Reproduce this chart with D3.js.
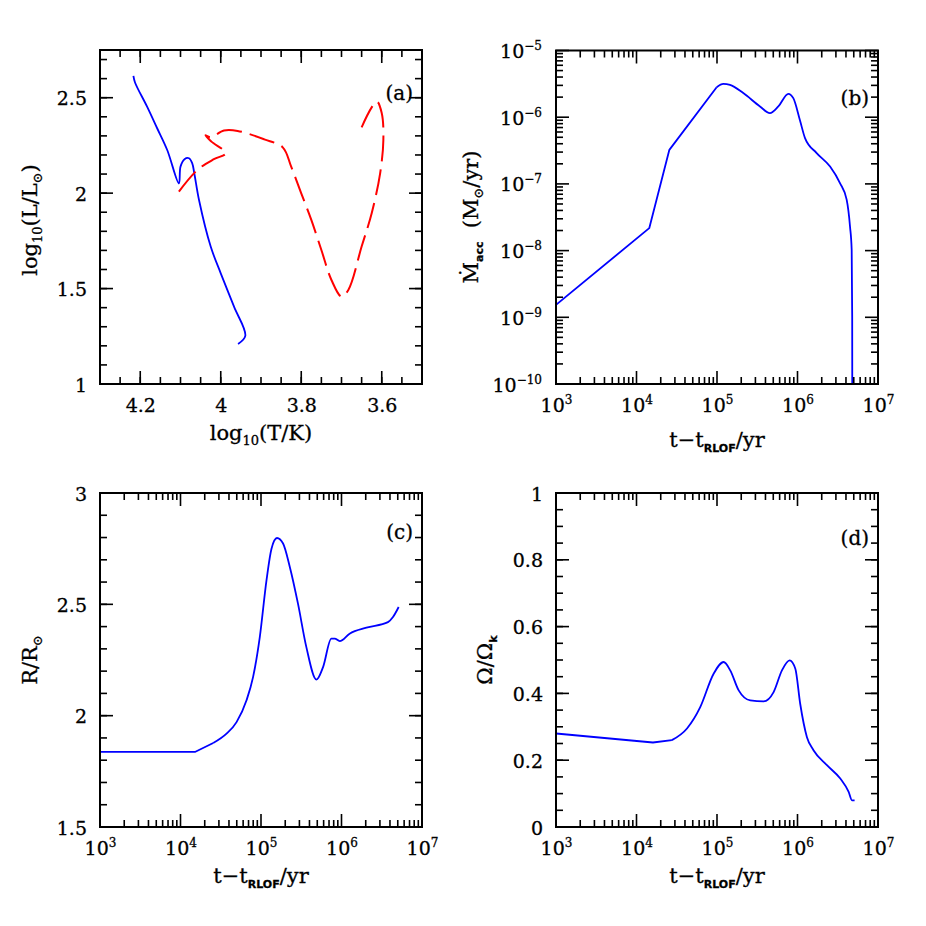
<!DOCTYPE html>
<html>
<head>
<meta charset="utf-8">
<script src="https://cdn.jsdelivr.net/npm/d3@7"></script>
<style>
  body { margin: 0; background: #fff; }
  text { font-family: "DejaVu Serif", serif; fill: #000; stroke: #000; stroke-width: 0.3px; }
</style>
</head>
<body>
<script>
// (a) HR diagram: accretor (blue, solid) and donor (red, dashed)
const accretorLogT = [4.217, 4.213, 4.183, 4.158, 4.133, 4.104, 4.100, 4.090, 4.079, 4.071, 4.065, 4.054, 4.025, 4.000, 3.967, 3.939, 3.957];
const accretorLogL = [2.614, 2.580, 2.453, 2.340, 2.226, 2.051, 2.139, 2.178, 2.183, 2.157, 2.095, 1.964, 1.720, 1.580, 1.405, 1.252, 1.210];
const donorLogT = [4.104, 4.058, 4.017, 3.9875, 4.023, 4.038, 4.025, 3.992, 3.958, 3.892, 3.846, 3.825, 3.800, 3.775, 3.750, 3.725, 3.700, 3.683, 3.650, 3.625, 3.604, 3.596, 3.600, 3.6125, 3.650];
const donorLogL = [2.008, 2.122, 2.178, 2.209, 2.270, 2.303, 2.293, 2.328, 2.326, 2.282, 2.240, 2.139, 1.999, 1.860, 1.702, 1.545, 1.458, 1.493, 1.720, 1.895, 2.104, 2.279, 2.419, 2.480, 2.345];

// (b) accretion rate
const timeMdot = [1e3, 1.44e4, 2.56e4, 9.9e4, 1.2e5, 1.45e5, 2.12e5, 3.42e5, 4.55e5, 5.78e5, 7.7e5, 8.87e5, 1.07e6, 1.24e6, 1.73e6, 2.54e6, 3.37e6, 4.08e6, 4.49e6, 4.71e6, 4.78e6, 4.8e6];
const mdotAcc = [1.54e-9, 2.17e-8, 3.24e-7, 2.82e-6, 3.16e-6, 3.06e-6, 2.3e-6, 1.45e-6, 1.15e-6, 1.45e-6, 2.24e-6, 1.93e-6, 9.1e-7, 4.86e-7, 2.9e-7, 1.82e-7, 1.03e-7, 5.8e-8, 2.3e-8, 1.03e-8, 1e-9, 1e-11];

// (c) radius
const timeRadius = [1e3, 1.51e4, 2.55e4, 3.73e4, 4.97e4, 6.61e4, 7.98e4, 9.66e4, 1.17e5, 1.35e5, 1.58e5, 1.88e5, 2.28e5, 2.88e5, 3.66e5, 4.89e5, 5.90e5, 7.48e5, 8.24e5, 9.51e5, 1.26e6, 2.04e6, 3.78e6, 4.36e6, 5.13e6];
const radius = [1.837, 1.837, 1.877, 1.919, 1.971, 2.069, 2.174, 2.353, 2.608, 2.750, 2.798, 2.773, 2.668, 2.503, 2.308, 2.162, 2.218, 2.346, 2.346, 2.335, 2.368, 2.395, 2.420, 2.443, 2.488];

// (d) rotation
const timeOmega = [1e3, 1.6e4, 2.75e4, 4.24e4, 6.19e4, 9.08e4, 1.21e5, 1.46e5, 1.86e5, 2.59e5, 3.79e5, 5.05e5, 6.41e5, 7.98e5, 9.40e5, 1.08e6, 1.31e6, 1.58e6, 2.32e6, 3.40e6, 4.32e6, 4.75e6, 5.12e6];
const omegaRatio = [0.280, 0.253, 0.260, 0.295, 0.359, 0.459, 0.494, 0.469, 0.409, 0.379, 0.376, 0.404, 0.469, 0.499, 0.474, 0.369, 0.269, 0.230, 0.185, 0.145, 0.105, 0.080, 0.080];

// tick values
const logTMajor = [4.2, 4.0, 3.8, 3.6];
const logLMajor = [1, 1.5, 2, 2.5];
const radiusMajor = [1.5, 2, 2.5, 3];
const omegaMajor = [0, 0.2, 0.4, 0.6, 0.8, 1];
const timeDecades = [3, 4, 5, 6, 7];
const mdotDecades = [-10, -9, -8, -7, -6, -5];

const W = 926, H = 926;
const svg = d3.select("body").append("svg").attr("width", W).attr("height", H);

const range = (a, b, s) => d3.range(Math.round((b - a) / s) + 1).map(i => +(a + i * s).toFixed(4));
const logMinor = decs => decs.slice(0, -1).flatMap(e => d3.range(2, 10).map(m => m * Math.pow(10, e)));
const pow10 = decs => decs.map(e => Math.pow(10, e));

const MAJOR = 13, MINOR = 7;

// inward ticks on all four sides, then the frame
function drawTicks(g, p, sx, sy, xMaj, xMin, yMaj, yMin) {
  const tg = g.append("g").attr("stroke", "#000").attr("stroke-width", 1.6);
  [[xMin, MINOR], [xMaj, MAJOR]].forEach(([vals, len]) => {
    tg.append("g").selectAll("line").data(vals).join("line")
      .attr("x1", d => sx(d)).attr("x2", d => sx(d))
      .attr("y1", p.y1).attr("y2", p.y1 - len);
    tg.append("g").selectAll("line").data(vals).join("line")
      .attr("x1", d => sx(d)).attr("x2", d => sx(d))
      .attr("y1", p.y0).attr("y2", p.y0 + len);
  });
  [[yMin, MINOR], [yMaj, MAJOR]].forEach(([vals, len]) => {
    tg.append("g").selectAll("line").data(vals).join("line")
      .attr("y1", d => sy(d)).attr("y2", d => sy(d))
      .attr("x1", p.x0).attr("x2", p.x0 + len);
    tg.append("g").selectAll("line").data(vals).join("line")
      .attr("y1", d => sy(d)).attr("y2", d => sy(d))
      .attr("x1", p.x1).attr("x2", p.x1 - len);
  });
  g.append("rect")
    .attr("x", p.x0).attr("y", p.y0)
    .attr("width", p.x1 - p.x0).attr("height", p.y1 - p.y0)
    .attr("fill", "none").attr("stroke", "#000").attr("stroke-width", 2);
}

function powLabels(sel) {
  sel.each(function (d) {
    const e = Math.round(Math.log10(d));
    const t = d3.select(this).text("");
    t.append("tspan").text("10");
    t.append("tspan").attr("dy", -8).attr("font-size", 12).text(String(e).replace("-", "\u2212"));
  });
}

function bottomLabels(g, p, sx, vals, isLog) {
  const ax = d3.axisBottom(sx).tickValues(vals).tickSize(0);
  if (!isLog) ax.tickFormat(d => String(d));
  const t = g.append("g").attr("transform", `translate(0,${p.y1})`).call(ax)
    .call(a => a.select(".domain").remove())
    .selectAll("text").attr("y", 28).attr("dy", null).attr("font-size", 19)
    .attr("font-family", "DejaVu Serif");
  if (isLog) t.call(powLabels);
}

function leftLabels(g, p, sy, vals, isLog, gap) {
  const ax = d3.axisLeft(sy).tickValues(vals).tickSize(0);
  if (!isLog) ax.tickFormat(d => String(d));
  const t = g.append("g").attr("transform", `translate(${p.x0},0)`).call(ax)
    .call(a => a.select(".domain").remove())
    .selectAll("text").attr("x", -gap).attr("dy", null).attr("y", 7).attr("font-size", 19)
    .attr("font-family", "DejaVu Serif");
  if (isLog) t.call(powLabels);
}

function addText(g, x, y, parts, opts = {}) {
  const t = g.append("text").attr("x", x).attr("y", y)
    .attr("font-size", opts.size || 21).attr("text-anchor", opts.anchor || "middle");
  if (opts.rotate) t.attr("transform", `rotate(-90,${x},${y})`);
  let shift = 0;
  parts.forEach(([s, kind]) => {
    const ts = t.append("tspan").text(s);
    const target = kind ? 5 : 0;
    if (target !== shift) { ts.attr("dy", target - shift); shift = target; }
    if (kind === "sub") ts.attr("font-size", 13);
    if (kind === "subb") ts.attr("font-size", 11).attr("font-weight", "bold").attr("font-family", "DejaVu Sans");
  });
  return t;
}

function clipFor(id, p) {
  svg.append("clipPath").attr("id", id).append("rect")
    .attr("x", p.x0).attr("y", p.y0).attr("width", p.x1 - p.x0).attr("height", p.y1 - p.y0);
  return `url(#${id})`;
}

function bluePath(g, pts, line, clip) {
  g.append("path").datum(pts).attr("d", line)
    .attr("fill", "none").attr("stroke", "#0000ff").attr("stroke-width", 1.8)
    .attr("stroke-linejoin", "round").attr("clip-path", clip);
}

// straight segments for the early kinked part, smooth curve for the rest
function timeSeries(g, x, y, times, values, nStraight, clip) {
  const pts = d3.zip(times, values);
  const straight = d3.line().x(d => x(d[0])).y(d => y(d[1]));
  const smooth = d3.line().x(d => x(d[0])).y(d => y(d[1])).curve(d3.curveMonotoneX);
  bluePath(g, pts.slice(0, nStraight), straight, clip);
  bluePath(g, pts.slice(nStraight - 1), smooth, clip);
}

const timeTitle = [["t\u2212t"], ["RLOF", "subb"], ["/yr"]];

// ---------- panel (a)
{
  const p = { x0: 100, x1: 422, y0: 50, y1: 384 };
  const g = svg.append("g");
  const x = d3.scaleLinear().domain([4.3, 3.5]).range([p.x0, p.x1]);
  const y = d3.scaleLinear().domain([1, 2.75]).range([p.y1, p.y0]);
  const line = d3.line().x(d => x(d[0])).y(d => y(d[1])).curve(d3.curveCatmullRom.alpha(0.5));
  const clip = clipFor("clipA", p);
  bluePath(g, d3.zip(accretorLogT, accretorLogL), line, clip);
  g.append("path").datum(d3.zip(donorLogT, donorLogL)).attr("d", line)
    .attr("fill", "none").attr("stroke", "#ff0000").attr("stroke-width", 2)
    .attr("stroke-dasharray", "26,8").attr("clip-path", clip);
  drawTicks(g, p, x, y, logTMajor, range(3.5, 4.3, 0.05), logLMajor, range(1, 2.7, 0.1));
  bottomLabels(g, p, x, logTMajor, false);
  leftLabels(g, p, y, logLMajor, false, 13);
  addText(g, 261, 440, [["log"], ["10", "sub"], ["(T/K)"]]);
  addText(g, 37, 220, [["log"], ["10", "sub"], ["(L/L"], ["\u2299", "sub"], [")"]], { rotate: true });
  addText(g, 413, 100, [["(a)"]], { anchor: "end", size: 20 });
}

// ---------- panel (b)
{
  const p = { x0: 556, x1: 878, y0: 50.5, y1: 384 };
  const g = svg.append("g");
  const x = d3.scaleLog().domain([1e3, 1e7]).range([p.x0, p.x1]);
  const y = d3.scaleLog().domain([1e-10, 1e-5]).range([p.y1, p.y0]);
  timeSeries(g, x, y, timeMdot, mdotAcc, 4, clipFor("clipB", p));
  drawTicks(g, p, x, y, pow10(timeDecades), logMinor(timeDecades), pow10(mdotDecades), logMinor(mdotDecades));
  bottomLabels(g, p, x, pow10(timeDecades), true);
  leftLabels(g, p, y, pow10(mdotDecades), true, 14);
  addText(g, 717, 447, timeTitle);
  addText(g, 478, 217, [["\u1E40"], ["acc", "subb"], ["\u00A0\u00A0(M"], ["\u2299", "sub"], ["/yr)"]], { rotate: true });
  addText(g, 869, 105, [["(b)"]], { anchor: "end", size: 20 });
}

// ---------- panel (c)
{
  const p = { x0: 100, x1: 422, y0: 493, y1: 827 };
  const g = svg.append("g");
  const x = d3.scaleLog().domain([1e3, 1e7]).range([p.x0, p.x1]);
  const y = d3.scaleLinear().domain([1.5, 3]).range([p.y1, p.y0]);
  timeSeries(g, x, y, timeRadius, radius, 3, clipFor("clipC", p));
  drawTicks(g, p, x, y, pow10(timeDecades), logMinor(timeDecades), radiusMajor, range(1.5, 3, 0.1));
  bottomLabels(g, p, x, pow10(timeDecades), true);
  leftLabels(g, p, y, radiusMajor, false, 13);
  addText(g, 261, 883, timeTitle);
  addText(g, 37, 660, [["R/R"], ["\u2299", "sub"]], { rotate: true });
  addText(g, 413, 539, [["(c)"]], { anchor: "end", size: 20 });
}

// ---------- panel (d)
{
  const p = { x0: 556, x1: 878, y0: 493, y1: 827 };
  const g = svg.append("g");
  const x = d3.scaleLog().domain([1e3, 1e7]).range([p.x0, p.x1]);
  const y = d3.scaleLinear().domain([0, 1]).range([p.y1, p.y0]);
  timeSeries(g, x, y, timeOmega, omegaRatio, 3, clipFor("clipD", p));
  drawTicks(g, p, x, y, pow10(timeDecades), logMinor(timeDecades), omegaMajor, range(0, 1, 0.05));
  bottomLabels(g, p, x, pow10(timeDecades), true);
  leftLabels(g, p, y, omegaMajor, false, 13);
  addText(g, 717, 883, timeTitle);
  addText(g, 492, 660, [["\u03A9/\u03A9"], ["k", "subb"]], { rotate: true });
  addText(g, 869, 545, [["(d)"]], { anchor: "end", size: 20 });
}
</script>
</body>
</html>
